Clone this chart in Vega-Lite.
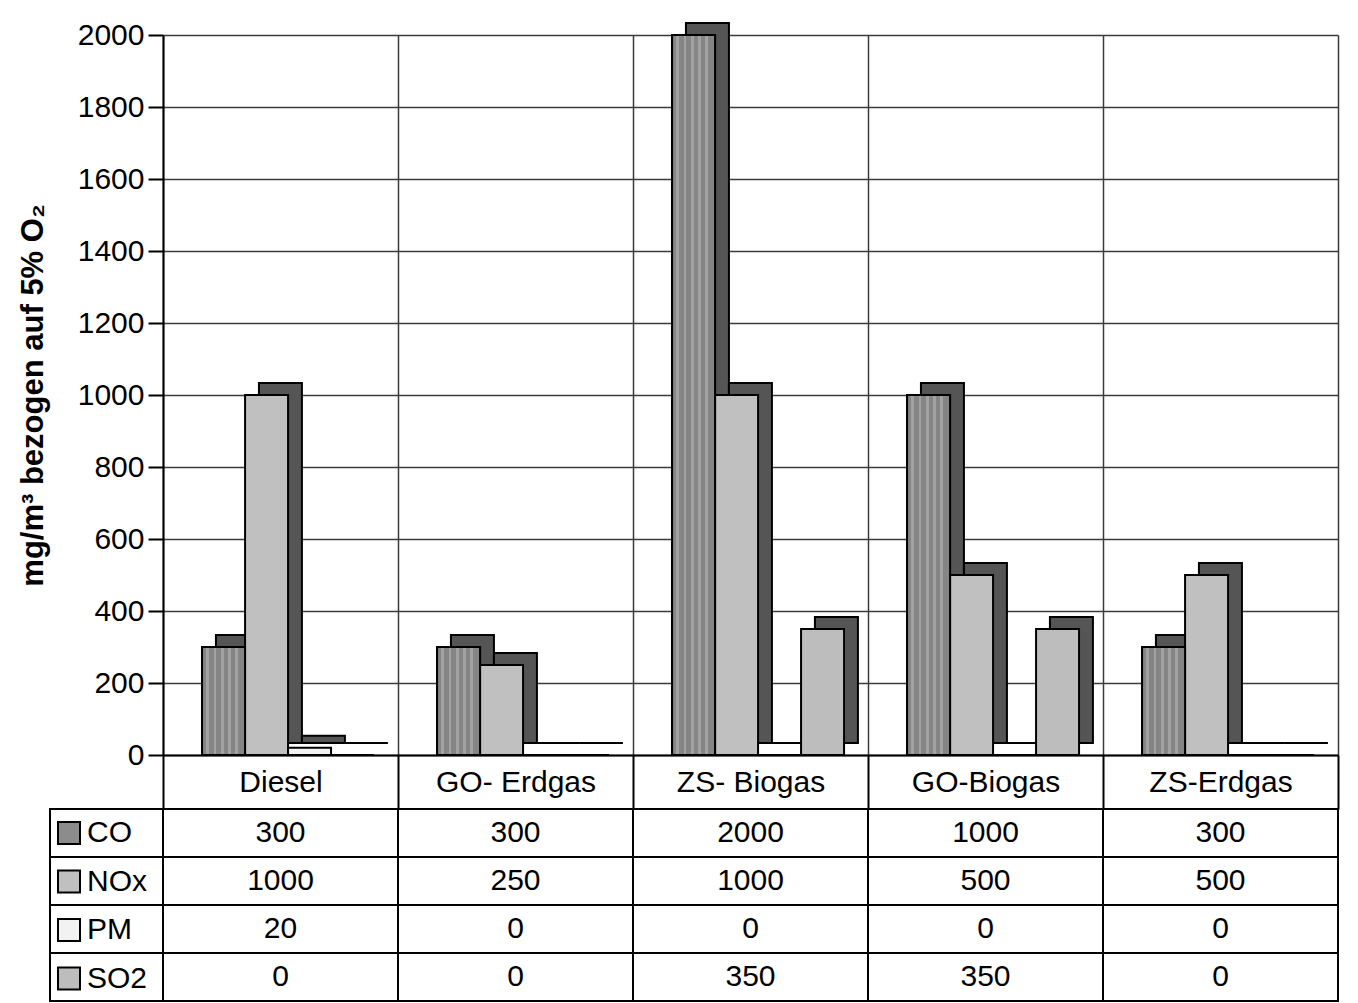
{
  "$schema": "https://vega.github.io/schema/vega-lite/v6.json",
  "padding": {"left": 17, "top": 20, "right": 10, "bottom": 0},
  "config": {"view": {"stroke": null}, "font": "Liberation Sans"},
  "datasets": {
    "emis": [
      {"Anlage": "Diesel", "Stoff": "CO", "Wert": 300},
      {"Anlage": "Diesel", "Stoff": "NOx", "Wert": 1000},
      {"Anlage": "Diesel", "Stoff": "PM", "Wert": 20},
      {"Anlage": "Diesel", "Stoff": "SO2", "Wert": 0},
      {"Anlage": "GO- Erdgas", "Stoff": "CO", "Wert": 300},
      {"Anlage": "GO- Erdgas", "Stoff": "NOx", "Wert": 250},
      {"Anlage": "GO- Erdgas", "Stoff": "PM", "Wert": 0},
      {"Anlage": "GO- Erdgas", "Stoff": "SO2", "Wert": 0},
      {"Anlage": "ZS- Biogas", "Stoff": "CO", "Wert": 2000},
      {"Anlage": "ZS- Biogas", "Stoff": "NOx", "Wert": 1000},
      {"Anlage": "ZS- Biogas", "Stoff": "PM", "Wert": 0},
      {"Anlage": "ZS- Biogas", "Stoff": "SO2", "Wert": 350},
      {"Anlage": "GO-Biogas", "Stoff": "CO", "Wert": 1000},
      {"Anlage": "GO-Biogas", "Stoff": "NOx", "Wert": 500},
      {"Anlage": "GO-Biogas", "Stoff": "PM", "Wert": 0},
      {"Anlage": "GO-Biogas", "Stoff": "SO2", "Wert": 350},
      {"Anlage": "ZS-Erdgas", "Stoff": "CO", "Wert": 300},
      {"Anlage": "ZS-Erdgas", "Stoff": "NOx", "Wert": 500},
      {"Anlage": "ZS-Erdgas", "Stoff": "PM", "Wert": 0},
      {"Anlage": "ZS-Erdgas", "Stoff": "SO2", "Wert": 0}
    ],
    "stoffe": [
      {"Stoff": "CO"}, {"Stoff": "NOx"}, {"Stoff": "PM"}, {"Stoff": "SO2"}
    ],
    "leer": [{"k": 1}]
  },
  "columns": 2,
  "bounds": "flush",
  "spacing": {"row": 54, "column": 0},
  "resolve": {"scale": {"x": "independent", "y": "independent", "color": "independent"}, "legend": {"color": "independent"}},
  "concat": [
    {
      "width": 113,
      "height": 720,
      "data": {"name": "leer"},
      "mark": {"type": "text", "text": ""},
      "encoding": {}
    },
    {
      "width": 1175,
      "height": 720,
      "data": {"name": "emis"},
      "resolve": {"scale": {"xOffset": "independent"}},
      "encoding": {
        "x": {
          "field": "Anlage", "type": "nominal", "sort": null,
          "scale": {"paddingInner": 0, "paddingOuter": 0},
          "axis": {
            "title": null, "labelAngle": 0, "labelFontSize": 30, "labelColor": "black",
            "labelBaseline": "middle", "labelPadding": -27,
            "tickBand": "extent", "tickSize": 54, "tickColor": "black", "tickWidth": 2,
            "domainColor": "black", "domainWidth": 2,
            "grid": true, "gridColor": "#3a3a3a", "gridWidth": 1.5
          }
        },
        "y": {
          "field": "Wert", "type": "quantitative",
          "scale": {"domain": [0, 2000], "nice": false},
          "axis": {
            "values": [0, 200, 400, 600, 800, 1000, 1200, 1400, 1600, 1800, 2000],
            "format": "d",
            "title": "mg/m³ bezogen auf 5% O₂", "titleFontSize": 31, "titleFontWeight": "bold",
            "titleColor": "black", "titlePadding": 28,
            "labelFontSize": 30, "labelColor": "black", "labelPadding": 4,
            "tickSize": 15, "tickColor": "black", "tickWidth": 2,
            "domainColor": "black", "domainWidth": 2,
            "grid": true, "gridColor": "#3a3a3a", "gridWidth": 1.5
          }
        }
      },
      "layer": [
        {
          "mark": {"type": "bar", "fill": "#555555", "stroke": "black", "strokeWidth": 2, "yOffset": -12, "y2Offset": -12},
          "encoding": {
            "xOffset": {"field": "Stoff", "type": "nominal", "scale": {"domain": ["CO", "NOx", "PM", "SO2"], "paddingInner": 0, "paddingOuter": 0.733, "align": 0.84}}
          }
        },
        {
          "layer": [
            {
              "mark": {"type": "bar", "stroke": "black", "strokeWidth": 2},
              "encoding": {
                "color": {
                  "field": "Stoff", "type": "nominal",
                  "scale": {"domain": ["CO", "NOx", "PM", "SO2"], "range": ["#8c8c8c", "#c0c0c0", "#f2f2f2", "#bdbdbd"]},
                  "legend": {
                    "orient": "none", "legendX": -109, "legendY": 783, "title": null,
                    "symbolType": "square", "symbolSize": 484, "symbolStrokeColor": "black",
                    "symbolStrokeWidth": 2, "symbolOpacity": 1,
                    "labelFontSize": 30, "labelColor": "black", "labelOffset": 3,
                    "rowPadding": 18.5, "padding": 0
                  }
                }
              }
            },
            {
              "transform": [{"filter": "datum.Stoff === 'CO'"}],
              "mark": {
                "type": "bar", "stroke": "black", "strokeWidth": 2,
                "color": {
                  "gradient": "linear", "x1": 0, "x2": 1, "y1": 0, "y2": 0,
                  "stops": [
                    {"offset": 0, "color": "#858585"}, {"offset": 0.1, "color": "#858585"},
                    {"offset": 0.1, "color": "#a2a2a2"}, {"offset": 0.167, "color": "#a2a2a2"},
                    {"offset": 0.167, "color": "#858585"}, {"offset": 0.267, "color": "#858585"},
                    {"offset": 0.267, "color": "#a2a2a2"}, {"offset": 0.333, "color": "#a2a2a2"},
                    {"offset": 0.333, "color": "#858585"}, {"offset": 0.433, "color": "#858585"},
                    {"offset": 0.433, "color": "#a2a2a2"}, {"offset": 0.5, "color": "#a2a2a2"},
                    {"offset": 0.5, "color": "#858585"}, {"offset": 0.6, "color": "#858585"},
                    {"offset": 0.6, "color": "#a2a2a2"}, {"offset": 0.667, "color": "#a2a2a2"},
                    {"offset": 0.667, "color": "#858585"}, {"offset": 0.767, "color": "#858585"},
                    {"offset": 0.767, "color": "#a2a2a2"}, {"offset": 0.833, "color": "#a2a2a2"},
                    {"offset": 0.833, "color": "#858585"}, {"offset": 1, "color": "#858585"}
                  ]
                }
              }
            }
          ],
          "encoding": {
            "xOffset": {"field": "Stoff", "type": "nominal", "scale": {"domain": ["CO", "NOx", "PM", "SO2"], "paddingInner": 0, "paddingOuter": 0.733, "align": 0.62}}
          }
        }
      ]
    },
    {
      "width": 113,
      "height": 192,
      "data": {"name": "stoffe"},
      "mark": {"type": "rect", "fill": "transparent", "stroke": "black", "strokeWidth": 2},
      "encoding": {
        "y": {"field": "Stoff", "type": "nominal", "sort": ["CO", "NOx", "PM", "SO2"], "scale": {"paddingInner": 0, "paddingOuter": 0}, "axis": null}
      }
    },
    {
      "width": 1175,
      "height": 192,
      "data": {"name": "emis"},
      "encoding": {
        "x": {"field": "Anlage", "type": "nominal", "sort": null, "scale": {"paddingInner": 0, "paddingOuter": 0}, "axis": null},
        "y": {"field": "Stoff", "type": "nominal", "sort": ["CO", "NOx", "PM", "SO2"], "scale": {"paddingInner": 0, "paddingOuter": 0}, "axis": null}
      },
      "layer": [
        {"mark": {"type": "rect", "fill": "white", "stroke": "black", "strokeWidth": 2}},
        {"mark": {"type": "text", "fontSize": 30, "color": "black", "baseline": "middle"}, "encoding": {"text": {"field": "Wert", "type": "quantitative", "format": "d"}}}
      ]
    }
  ]
}
